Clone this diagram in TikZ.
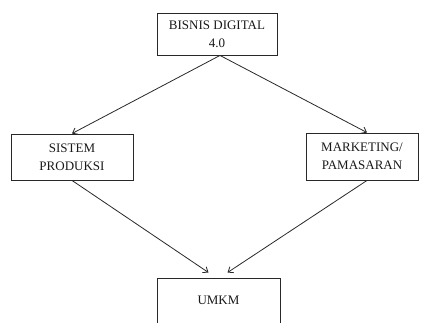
\documentclass[tikz,border=0pt]{standalone}
\usepackage{fontspec}
\setmainfont{Liberation Serif}
\usetikzlibrary{positioning,calc,arrows.meta}
\definecolor{lineink}{RGB}{40,40,40}

\begin{document}
\begin{tikzpicture}[
  x=1pt,y=1pt,
  every node/.style={font=\fontsize{13}{18}\selectfont,text=black!90},
  unit/.style={rectangle,draw=lineink,line width=0.9pt,align=center,inner sep=2pt},
  flow/.style={-{Straight Barb[length=4.5pt,width=7pt]},line width=0.8pt,lineink}
]
\useasboundingbox (0,0) rectangle (423,323);
\clip (0,0) rectangle (423,323);
\node[unit,minimum width=120,minimum height=42] (bisnis) at (217,289) {BISNIS DIGITAL\\4.0};
\node[unit,minimum width=122,minimum height=46] (produksi) at (72,166) {SISTEM\\PRODUKSI};
\node[unit,minimum width=112,minimum height=47] (pemasaran) at (362,166.5) {MARKETING/\\PAMASARAN};
\node[unit,minimum width=123,minimum height=56,text depth=0pt] (umkm) at (218.5,17) {};
\node (umkmtext) at (218.5,23) {UMKM};
\coordinate (inL) at ($(umkm.north)+(-10,5)$);
\coordinate (inR) at ($(umkm.north)+(9,5)$);
\draw[flow] ($(bisnis.south)+(3,0)$) -- (produksi.north);
\draw[flow] ($(bisnis.south)+(3,0)$) -- ($(pemasaran.north)+(5,0)$);
\draw[flow] (produksi.south) -- (inL);
\draw[flow] ($(pemasaran.south)+(5,0)$) -- (inR);
\end{tikzpicture}
\end{document}
